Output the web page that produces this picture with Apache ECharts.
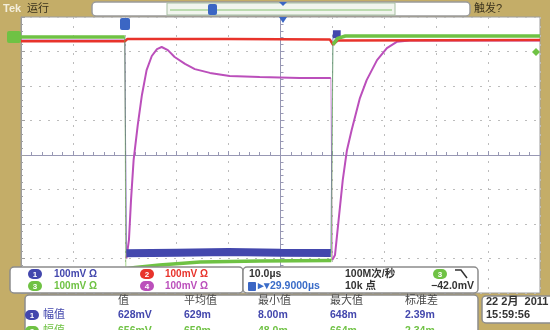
<!DOCTYPE html>
<html>
<head>
<meta charset="utf-8">
<script src="https://cdn.jsdelivr.net/npm/echarts@6/dist/echarts.min.js"></script>
<style>
html,body{margin:0;padding:0;background:#c4ad68}
#main{width:550px;height:330px}
</style>
</head>
<body>
<div id="main"></div>
<script>
// time in µs from trigger, level in divisions (100mV/div, 10µs/div)
var ch1 = [[0,3.42],[0.3,-2.85],[10,-2.83],[20,-2.81],[30,-2.83],[39.7,-2.84],[40.1,3.5],[41.6,3.5]];
var ch2 = [[-20,3.30],[0,3.30],[0.5,3.36],[20,3.36],[39.5,3.35],[40.1,3.2],[41,3.32],[80,3.33]];
var ch3 = [[-20,3.42],[0,3.42],[0.2,-3.30],[2,-3.26],[6.7,-3.19],[14.5,-3.10],[26,-3.07],[39.8,-3.06],
           [40.1,3.2],[41,3.38],[42.5,3.45],[80,3.45]];
var ch4 = [[-20,3.32],[0,3.32],[0.3,-3.0],[0.8,-2.46],[1.2,-1.30],[1.7,-0.14],[2.5,0.87],[3.3,1.74],
           [4.2,2.46],[5.2,2.87],[6.2,3.07],[7.1,3.13],[8.3,3.04],[9.6,2.84],[11.6,2.64],[13.5,2.49],
           [16.4,2.38],[20.2,2.29],[26,2.26],[33.7,2.23],[39.7,2.23],[40.0,-3.04],[40.5,-2.90],
           [41.2,-1.88],[42.0,-0.72],[42.8,0.14],[43.7,0.72],[45.3,1.65],[46.6,2.17],[48.6,2.75],
           [50.5,3.10],[52.4,3.28],[54.9,3.32],[80,3.32]];

var chColor = {1:'#4347ad', 2:'#e8332b', 3:'#6fc244', 4:'#bb4fbb'};
var scaleText = ['100mV Ω','100mV Ω','100mV Ω','100mV Ω'];
var measHead = ['值','平均值','最小值','最大值','标准差'];
var meas1 = ['628mV','629m','8.00m','648m','2.39m'];
var meas3 = ['656mV','659m','48.0m','664m','2.34m'];

// fast edges are drawn thin, flat parts thick
function split(pts){
  var body = [], edge = [];
  for (var i = 0; i < pts.length; i++){
    body.push(pts[i]);
    var n = pts[i+1];
    if (n && n[0]-pts[i][0] <= 0.5 && Math.abs(n[1]-pts[i][1]) > 2){
      body.push([pts[i][0], '-']);
      edge.push(pts[i], n, [n[0], '-']);
    }
  }
  return {body: body, edge: edge};
}

function traces(name, pts, color, w){
  var s = split(pts);
  return [
    {name:name, type:'line', data:s.body, showSymbol:false, connectNulls:false,
     lineStyle:{color:color, width:w}, silent:true},
    {name:name+'e', type:'line', data:s.edge, showSymbol:false, connectNulls:false,
     lineStyle:{color:color, width:1, opacity:0.6}, silent:true}
  ];
}

var FONT = '"Liberation Sans","Noto Sans CJK SC",sans-serif';
function txt(x, y, s, fill, size, bold, align){
  return {type:'text', z:100, style:{x:x, y:y, text:s, fill:fill, align:align||'left',
    verticalAlign:'middle', font:(bold?'bold ':'')+size+'px '+FONT}};
}
function box(x, y, w, h, fill, stroke){
  return {type:'rect', z:99, shape:{x:x, y:y, width:w, height:h, r:4},
    style:{fill:fill, stroke:stroke||'#8c8c8c', lineWidth:1.5}};
}
function badge(x, y, ch){
  return [
    {type:'rect', z:100, shape:{x:x-7, y:y-5, width:14, height:10, r:5}, style:{fill:chColor[ch]}},
    txt(x, y+0.5, String(ch), '#fff', 8, true, 'center')
  ];
}

var g = [];
// top bar
g.push(txt(3, 9, 'Tek', '#f3eedb', 11, true));
g.push(txt(27, 9, '运行', '#3b331d', 11, false));
g.push(box(92, 2, 378, 14, '#fff', '#9a9a9a'));
g.push({type:'rect', z:100, shape:{x:167, y:3, width:228, height:12}, style:{fill:'#f1f5ee', stroke:'#a7bfa2', lineWidth:1}});
g.push({type:'line', z:100, shape:{x1:170, y1:10, x2:392, y2:10}, style:{stroke:'#a9d39a', lineWidth:1.5}});
g.push({type:'rect', z:101, shape:{x:208, y:4, width:9, height:11, r:2}, style:{fill:'#3b66c4'}});
g.push(txt(212.5, 9.5, 'T', '#fff', 8, true, 'center'));
g.push({type:'polygon', z:101, shape:{points:[[279,2],[287,2],[283,6]]}, style:{fill:'#3b66c4'}});
g.push(txt(474, 9, '触发?', '#3b331d', 11, false));
// markers on the screen
g.push({type:'rect', z:101, shape:{x:120, y:18, width:10, height:12, r:2}, style:{fill:'#3b66c4'}});
g.push(txt(125, 24, 'T', '#fff', 8, true, 'center'));
g.push({type:'polygon', z:101, shape:{points:[[279,17],[287,17],[283,23]]}, style:{fill:'#3b66c4'}});
g.push({type:'rect', z:101, shape:{x:7, y:31, width:14, height:12, r:2}, style:{fill:chColor[3]}});
g.push(txt(14, 37.5, '3', '#fff', 9, true, 'center'));
g.push({type:'polygon', z:101, shape:{points:[[536,48],[540,52],[536,56],[532,52]]}, style:{fill:chColor[3]}});
// channel scale box
g.push(box(10, 267, 233, 26, '#fff'));
g.push.apply(g, badge(35, 274, 1)); g.push(txt(54, 274, scaleText[0], chColor[1], 10, true));
g.push.apply(g, badge(147, 274, 2)); g.push(txt(165, 274, scaleText[1], chColor[2], 10, true));
g.push.apply(g, badge(35, 286, 3)); g.push(txt(54, 286, scaleText[2], chColor[3], 10, true));
g.push.apply(g, badge(147, 286, 4)); g.push(txt(165, 286, scaleText[3], chColor[4], 10, true));
// timebase box
g.push(box(243, 267, 235, 26, '#fff'));
g.push(txt(249, 274, '10.0µs', '#333', 10.5, true));
g.push(txt(345, 274, '100M次/秒', '#333', 10.5, true));
g.push.apply(g, badge(440, 274, 3));
g.push({type:'polyline', z:101, shape:{points:[[455,270],[461,270],[467,278]]}, style:{stroke:'#333', lineWidth:1.5, fill:null}});
g.push({type:'rect', z:101, shape:{x:248, y:282, width:8, height:9, r:1}, style:{fill:'#3b66c4'}});
g.push(txt(252, 286.5, 'T', '#fff', 7, true, 'center'));
g.push(txt(258, 286, '▸▾29.9000µs', '#3a6cc8', 10.5, true));
g.push(txt(345, 286, '10k 点', '#333', 10.5, true));
g.push(txt(474, 286, '−42.0mV', '#333', 10.5, true, 'right'));
// measurement box
g.push(box(25, 295, 453, 45, '#fff'));
var cols = [118, 184, 258, 330, 405];
for (var i = 0; i < 5; i++){
  g.push(txt(cols[i], 301, measHead[i], '#4a4a4a', 11, false));
  g.push(txt(cols[i], 315, meas1[i], chColor[1], 10.5, true));
  g.push(txt(cols[i], 331, meas3[i], chColor[3], 10.5, true));
}
g.push.apply(g, badge(32, 315, 1)); g.push(txt(43, 315, '幅值', chColor[1], 11, false));
g.push.apply(g, badge(32, 331, 3)); g.push(txt(43, 331, '幅值', chColor[3], 11, false));
// date box
g.push(box(482, 296, 80, 27, '#fff'));
g.push(txt(486, 302, '22 2月  2011', '#333', 11, true));
g.push(txt(486, 315, '15:59:56', '#333', 11, true));

var chart = echarts.init(document.getElementById('main'));
var dotted = {show:true, lineStyle:{color:'#bcbcbc', type:[2,7], width:1}};
chart.setOption({
  animation:false,
  backgroundColor:'#c4ad68',
  grid:{left:21, right:10, top:17, bottom:37, show:true, backgroundColor:'#fff', borderColor:'#9c9c9c', borderWidth:1},
  xAxis:{type:'value', min:-20, max:80, interval:10,
    axisLine:{onZero:true, lineStyle:{color:'#9898b4'}},
    axisTick:{show:true, inside:true, length:4, lineStyle:{color:'#9898b4'}},
    minorTick:{show:true, splitNumber:5, length:3, lineStyle:{color:'#9898b4'}},
    axisLabel:{show:false}, splitLine:dotted},
  yAxis:[
    {type:'value', min:-4, max:4, interval:1,
     axisLine:{show:true, onZero:false, lineStyle:{color:'#9c9c9c'}},
     axisTick:{show:true, inside:true, length:4, lineStyle:{color:'#a0a0a0'}},
     minorTick:{show:true, splitNumber:5, length:2, lineStyle:{color:'#a0a0a0'}},
     axisLabel:{show:false}, splitLine:dotted},
    {type:'value', min:-4, max:4, interval:1, position:'left', offset:-259.5,
     axisLine:{show:true, onZero:false, lineStyle:{color:'#9898b4'}},
     axisTick:{show:true, inside:true, length:4, lineStyle:{color:'#9898b4'}},
     minorTick:{show:true, splitNumber:5, length:3, lineStyle:{color:'#9898b4'}},
     axisLabel:{show:false}, splitLine:{show:false}}
  ],
  series:[].concat(
    traces('CH4', ch4, chColor[4], 2),
    traces('CH1', ch1, chColor[1], 8),
    traces('CH2', ch2, chColor[2], 2.5),
    traces('CH3', ch3, chColor[3], 3.5)
  ),
  graphic:{elements:g}
});
</script>
</body>
</html>
